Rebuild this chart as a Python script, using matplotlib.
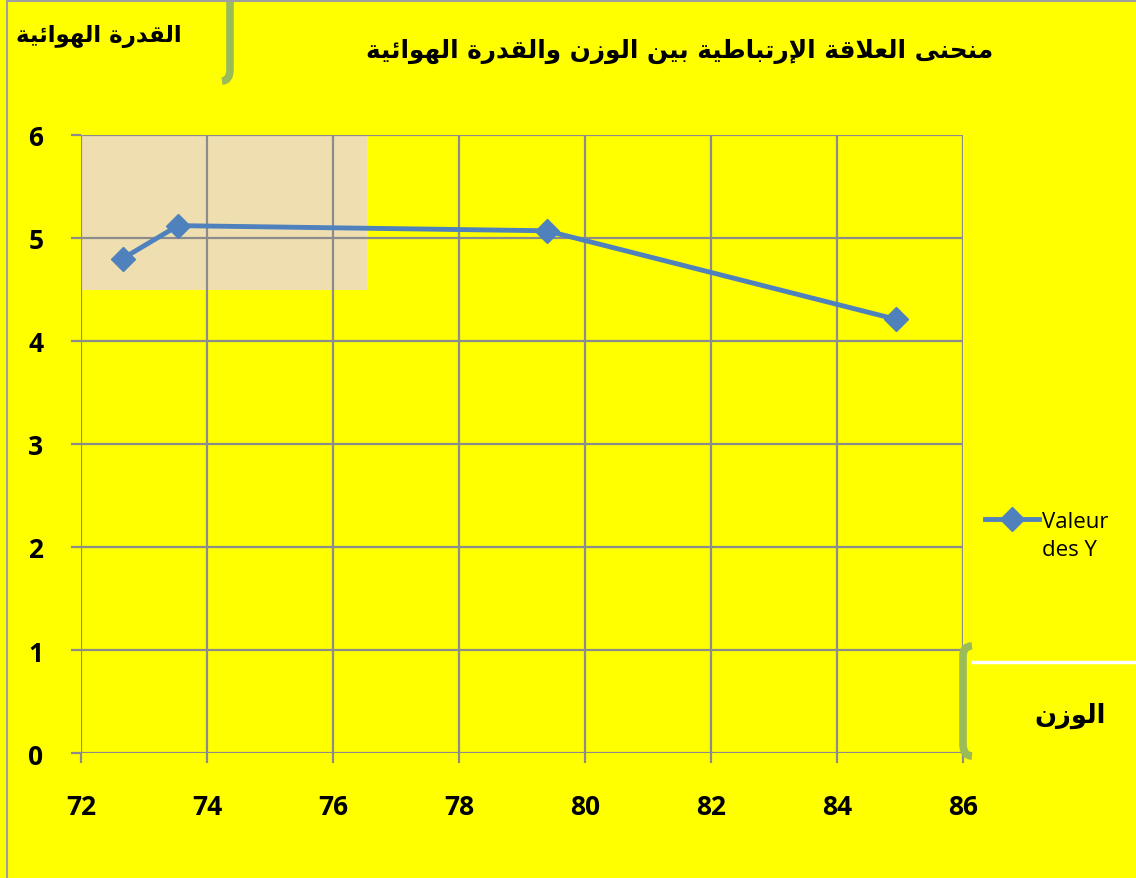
import matplotlib
matplotlib.use("Agg")
import matplotlib.pyplot as plt
from matplotlib.patches import Rectangle, PathPatch
from matplotlib.path import Path
from matplotlib.transforms import IdentityTransform
from matplotlib.legend_handler import HandlerLine2D

# Data
weight = [72.66, 73.54, 79.39, 84.94]
air_power = [4.80, 5.12, 5.07, 4.21]
x_ticks = [72, 74, 76, 78, 80, 82, 84, 86]
y_ticks = [0, 1, 2, 3, 4, 5, 6]

title_text = "منحنى العلاقة الإرتباطية بين الوزن والقدرة الهوائية"
ylabel_text = "القدرة الهوائية"
xlabel_text = "الوزن"
legend_label = "Valeur\ndes Y"

# Minimal Arabic shaping (presentation forms) since matplotlib has no shaper
FORMS = {
    "\u0627": (0xFE8D, 0xFE8E, None, None),
    "\u0625": (0xFE87, 0xFE88, None, None),
    "\u0628": (0xFE8F, 0xFE90, 0xFE91, 0xFE92),
    "\u0629": (0xFE93, 0xFE94, None, None),
    "\u062A": (0xFE95, 0xFE96, 0xFE97, 0xFE98),
    "\u062D": (0xFEA1, 0xFEA2, 0xFEA3, 0xFEA4),
    "\u062F": (0xFEA9, 0xFEAA, None, None),
    "\u0631": (0xFEAD, 0xFEAE, None, None),
    "\u0632": (0xFEAF, 0xFEB0, None, None),
    "\u0637": (0xFEC1, 0xFEC2, 0xFEC3, 0xFEC4),
    "\u0639": (0xFEC9, 0xFECA, 0xFECB, 0xFECC),
    "\u0642": (0xFED5, 0xFED6, 0xFED7, 0xFED8),
    "\u0644": (0xFEDD, 0xFEDE, 0xFEDF, 0xFEE0),
    "\u0645": (0xFEE1, 0xFEE2, 0xFEE3, 0xFEE4),
    "\u0646": (0xFEE5, 0xFEE6, 0xFEE7, 0xFEE8),
    "\u0647": (0xFEE9, 0xFEEA, 0xFEEB, 0xFEEC),
    "\u0648": (0xFEED, 0xFEEE, None, None),
    "\u0649": (0xFEEF, 0xFEF0, None, None),
    "\u064A": (0xFEF1, 0xFEF2, 0xFEF3, 0xFEF4),
    "\u0626": (0xFE89, 0xFE8A, 0xFE8B, 0xFE8C),
    "\uFEFB": (0xFEFB, 0xFEFC, None, None),
    "\uFEF9": (0xFEF9, 0xFEFA, None, None),
}


def dual(c):
    return c in FORMS and FORMS[c][2] is not None


def shape(text):
    text = text.replace("\u0644\u0627", "\uFEFB").replace("\u0644\u0625", "\uFEF9")
    out = []
    for i, c in enumerate(text):
        if c not in FORMS:
            out.append(c)
            continue
        prev = text[i - 1] if i > 0 else ""
        nxt = text[i + 1] if i + 1 < len(text) else ""
        join_prev = dual(prev)
        join_next = dual(c) and nxt in FORMS
        iso, fin, ini, med = FORMS[c]
        if join_prev and join_next:
            code = med
        elif join_prev:
            code = fin
        elif join_next:
            code = ini
        else:
            code = iso
        out.append(chr(code))
    return "".join(out)[::-1]


class TopAlignedLine(HandlerLine2D):
    # put the legend line level with the first text line
    def create_artists(self, legend, orig_handle, xdescent, ydescent, width,
                       height, fontsize, trans):
        arts = super().create_artists(legend, orig_handle, xdescent, ydescent,
                                      width, height, fontsize, trans)
        for a in arts:
            a.set_ydata([y + fontsize * 0.75 for y in a.get_ydata()])
        return arts


yellow = "#FFFF00"
blue = "#4F81BD"
green = "#9BBB59"
grid_grey = "#8C8C8C"

fig = plt.figure(figsize=(11.36, 8.79), dpi=100, facecolor=yellow)
ax = fig.add_axes([0.0713, 0.1422, 0.7764, 0.7031])
ax.set_facecolor(yellow)

# papyrus-like patch behind upper-left grid
ax.add_patch(Rectangle((0.001, 0.749), 0.323, 0.251, transform=ax.transAxes,
                       facecolor="#EFDFB0", edgecolor="none", zorder=0.3))

ax.plot(weight, air_power, color=blue, linewidth=3.5, marker="D", markersize=12,
        label=legend_label, zorder=3)

ax.set_xlim(72, 86)
ax.set_ylim(0, 6)
ax.set_xticks(x_ticks)
ax.set_yticks(y_ticks)
ax.set_axisbelow(True)
ax.grid(True, color=grid_grey, linewidth=1.6)
for s in ax.spines.values():
    s.set_visible(False)
ax.tick_params(axis="both", color=grid_grey, width=1.6, length=7, labelsize=19)
ax.tick_params(axis="x", pad=22)
ax.tick_params(axis="y", pad=20)
for lab in ax.get_xticklabels() + ax.get_yticklabels():
    lab.set_fontfamily("Open Sans")
    lab.set_fontweight("bold")

leg = fig.legend(loc="upper left", bbox_to_anchor=(0.8595, 0.428), frameon=False,
                 prop={"family": "Open Sans", "size": 16}, handlelength=2.4,
                 handletextpad=0.15, borderaxespad=0,
                 handler_map={plt.Line2D: TopAlignedLine()})
for t in leg.get_texts():
    t.set_linespacing(1.45)

arabic_fonts = ["DejaVu Sans"]
fig.text(0.5985, 0.941, shape(title_text), ha="center", va="center",
         fontsize=17.8, fontweight="bold", family=arabic_fonts)
fig.text(0.087, 0.958, shape(ylabel_text), ha="center", va="center",
         fontsize=16.5, fontweight="bold", family=arabic_fonts)
fig.text(0.942, 0.186, shape(xlabel_text), ha="center", va="center",
         fontsize=18.5, fontweight="bold", family=arabic_fonts)

# frame border lines (top and left)
px = IdentityTransform()
fig.add_artist(plt.Line2D([7, 7], [0, 877], color="#A0A0A0", linewidth=1.5,
                          transform=px))
fig.add_artist(plt.Line2D([7, 1136], [877, 877], color="#A0A0A0", linewidth=1.5,
                          transform=px))

# green brackets
top_br = Path([(230, 880), (230, 809), (230, 797), (222, 797)],
              [Path.MOVETO, Path.LINETO, Path.CURVE3, Path.CURVE3])
fig.add_artist(PathPatch(top_br, transform=px, facecolor="none",
                         edgecolor=green, linewidth=5.5, capstyle="butt"))
low_br = Path([(972, 232), (963, 232), (963, 222), (963, 134), (963, 122), (972, 122)],
              [Path.MOVETO, Path.CURVE3, Path.CURVE3, Path.LINETO, Path.CURVE3, Path.CURVE3])
fig.add_artist(PathPatch(low_br, transform=px, facecolor="none",
                         edgecolor=green, linewidth=5.5, capstyle="butt"))
fig.add_artist(plt.Line2D([973, 1136], [216, 216], color="white", linewidth=2.5,
                          transform=px))

fig.savefig("out.png", dpi=100, facecolor=yellow)
